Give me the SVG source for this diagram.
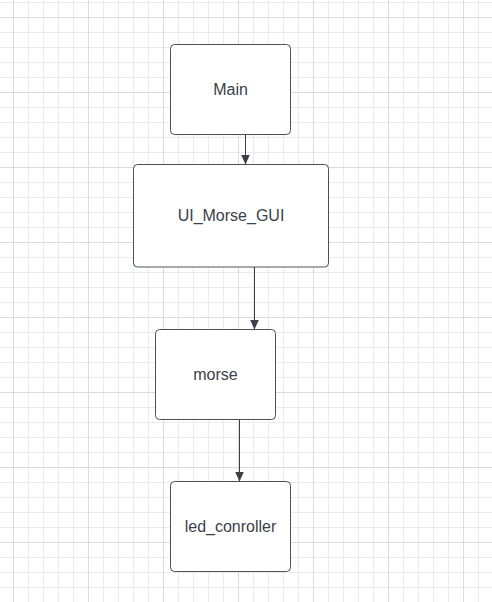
<svg xmlns="http://www.w3.org/2000/svg" width="492" height="602" viewBox="0 0 492 602">
  <defs>
    <pattern id="minor" x="13" y="2" width="15" height="15" patternUnits="userSpaceOnUse">
      <path d="M0.5 0V15M0 0.5H15" fill="none" stroke="#ebebeb" stroke-width="1"/>
    </pattern>
    <pattern id="major" x="13" y="17" width="75" height="75" patternUnits="userSpaceOnUse">
      <path d="M0.5 0V75M0 0.5H75" fill="none" stroke="#dcdcdc" stroke-width="1"/>
    </pattern>
    <marker id="arrow" viewBox="0 0 10 14" refX="10" refY="7" markerWidth="10" markerHeight="14" markerUnits="userSpaceOnUse" orient="auto">
      <path d="M0 2.5L10 7L0 11.5Z" fill="#3a3f48"/>
    </marker>
    <style>
      .box { fill: #ffffff; stroke: #4a5059; stroke-width: 1; }
      .label { font-family: "Liberation Sans", Arial, sans-serif; font-size: 16px; fill: #3a414a; text-anchor: middle; }
      .edge { fill: none; stroke: #3a3f48; stroke-width: 1; marker-end: url(#arrow); }
    </style>
  </defs>
  <rect width="492" height="602" fill="#ffffff"/>
  <rect width="492" height="602" fill="url(#minor)"/>
  <rect width="492" height="602" fill="url(#major)"/>

  <g id="connectors">
    <path class="edge" d="M245.5 134.5V164.5"/>
    <path class="edge" d="M254.5 267V329.5"/>
    <path class="edge" d="M239.5 419.5V481.5"/>
  </g>

  <g id="main">
    <rect class="box" x="170.5" y="44.5" width="120" height="90" rx="4"/>
    <text class="label" x="230.5" y="95">Main</text>
  </g>
  <g id="ui_morse_gui">
    <rect class="box" x="133.5" y="164.5" width="195" height="102.5" rx="4"/>
    <text class="label" x="231" y="221">UI_Morse_GUI</text>
  </g>
  <g id="morse">
    <rect class="box" x="155.5" y="329.5" width="120" height="90" rx="4"/>
    <text class="label" x="215.5" y="379.5">morse</text>
  </g>
  <g id="led_conroller">
    <rect class="box" x="170.5" y="481.5" width="120" height="90" rx="4"/>
    <text class="label" x="230.5" y="531.5">led_conroller</text>
  </g>
</svg>
